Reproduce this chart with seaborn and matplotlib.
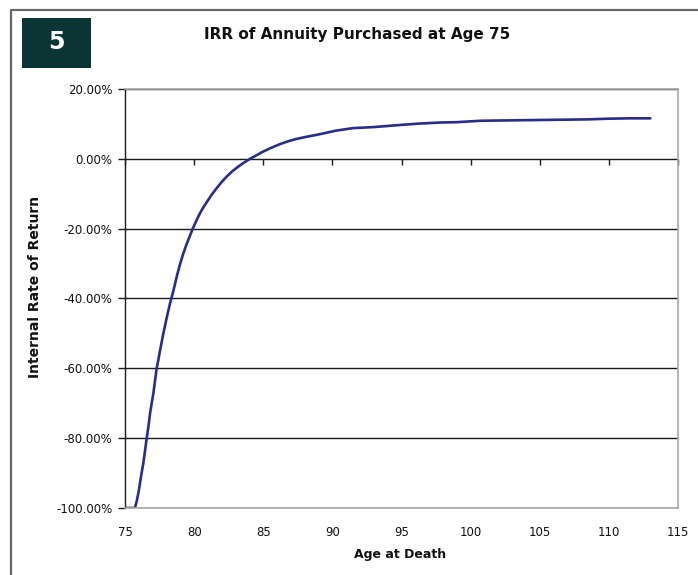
import matplotlib
matplotlib.use("Agg")
import matplotlib.pyplot as plt
import matplotlib.ticker as mticker
from matplotlib.patches import Rectangle
from matplotlib.lines import Line2D
import seaborn as sns
import pandas as pd

# Age at death (years) and the resulting internal rate of return (%)
age_at_death = [75.0, 75.25, 75.5, 75.72, 75.85, 76.0, 76.1, 76.2, 76.32, 76.45,
                76.57, 76.7, 76.81, 76.93, 77.05, 77.17, 77.29, 77.41, 77.53, 77.75,
                78.0, 78.25, 78.5, 78.75, 78.98, 79.2, 79.46, 79.7, 79.9,
                80.15, 80.42, 80.65, 80.9, 81.25, 81.63, 82.0, 82.35, 82.75, 83.2,
                83.6, 84.04, 84.5, 85.0, 85.6, 86.2, 86.7, 87.3, 88.1, 88.9,
                89.6, 90.3, 91.5, 93.0, 94.9, 96.3, 97.8, 99.0, 100.7, 102.5,
                104.5, 106.5, 108.5, 110.0, 111.5, 113.0]
irr_pct = [-100.0, -100.0, -100.0, -100.0, -98.0, -95.0, -92.5, -90.0, -87.3, -83.6,
           -80.0, -76.5, -73.0, -70.0, -67.2, -63.6, -60.0, -57.6, -55.0, -50.5,
           -45.8, -41.5, -37.8, -33.6, -30.2, -27.3, -24.4, -22.0, -20.0,
           -17.8, -15.6, -14.0, -12.5, -10.4, -8.4, -6.6, -5.1, -3.6, -2.2,
           -1.1, 0.0, 1.0, 2.1, 3.2, 4.2, 4.9, 5.6, 6.3, 6.9,
           7.5, 8.1, 8.8, 9.1, 9.7, 10.1, 10.4, 10.5, 10.9, 11.0,
           11.1, 11.2, 11.3, 11.5, 11.6, 11.6]

x_ticks = [75, 80, 85, 90, 95, 100, 105, 110, 115]
y_ticks = [-100, -80, -60, -40, -20, 0, 20]

title = "IRR of Annuity Purchased at Age 75"
badge = "5"
x_label = "Age at Death"
y_label = "Internal Rate of Return"

sns.set_theme(style="white")
plt.rcParams["font.family"] = ["DejaVu Sans"]
plt.rcParams["axes.unicode_minus"] = False

fig = plt.figure(figsize=(6.98, 5.75), dpi=100)
ax = fig.add_axes([125 / 698, 67 / 575, 553 / 698, 419 / 575])

df = pd.DataFrame({"age": age_at_death, "irr": irr_pct})
sns.lineplot(data=df, x="age", y="irr", ax=ax, color="#2b2b8c",
             linewidth=1.9, sort=False, estimator=None)

ax.set_xlim(75, 115)
ax.set_ylim(-100, 20)
ax.set_xticks(x_ticks)
ax.set_yticks(y_ticks)
ax.yaxis.set_major_formatter(mticker.PercentFormatter(decimals=2))

# horizontal gridlines in black, frame lines in light gray
ax.grid(axis="y", color="#1a1a1a", linewidth=1.0)
ax.grid(axis="x", visible=False)
for side in ("top", "right", "bottom"):
    ax.spines[side].set_color("#a8a8a8")
    ax.spines[side].set_linewidth(1.2)
ax.spines["left"].set_color("#1a1a1a")
ax.spines["left"].set_linewidth(1.0)

ax.tick_params(axis="y", which="major", left=True, length=5, width=1.0,
               color="#1a1a1a", pad=4, labelsize=8.5, labelcolor="#111111")
ax.tick_params(axis="x", which="major", bottom=False, length=0, pad=13,
               labelsize=8.5, labelcolor="#111111")

# category axis crossing at 0% with downward tick marks
zero_frac = (0 - (-100)) / 120
sec = ax.secondary_xaxis(zero_frac)
sec.set_xticks(x_ticks)
sec.tick_params(axis="x", direction="out", length=4, width=1.0,
                color="#1a1a1a", labelbottom=False, labeltop=False,
                bottom=True, top=False)
sec.spines["bottom"].set_visible(False)
sec.spines["top"].set_visible(False)
sec.xaxis.set_ticks_position("bottom")
sec.set_xticklabels([])

ax.set_xlabel(x_label, fontsize=9, fontweight="bold", va="center", color="#111111")
ax.xaxis.set_label_coords(0.497, -0.112)
ax.set_ylabel(y_label, fontsize=10, fontweight="bold", va="center", ha="center",
              color="#111111")
ax.yaxis.set_label_coords(-0.163, 0.527)

fig.text(357 / 698, 1 - 35 / 575, title, ha="center", va="center",
         fontsize=11, fontweight="bold", color="#111111")

# numbered badge in the upper-left corner
fig.patches.append(Rectangle((22 / 698, 1 - 68 / 575), 69 / 698, 50 / 575,
                             transform=fig.transFigure, facecolor="#0b3535",
                             edgecolor="none", zorder=3))
fig.text(56 / 698, 1 - 42 / 575, badge, ha="center", va="center",
         fontsize=17, fontweight="bold", color="white", zorder=4)

# outer panel frame
fig.lines.append(Line2D([10.5 / 698, 10.5 / 698, 1.0], [0.0, 1 - 9.5 / 575, 1 - 9.5 / 575],
                        transform=fig.transFigure, color="#666666", linewidth=1.6))

fig.savefig("out.png", dpi=100)
